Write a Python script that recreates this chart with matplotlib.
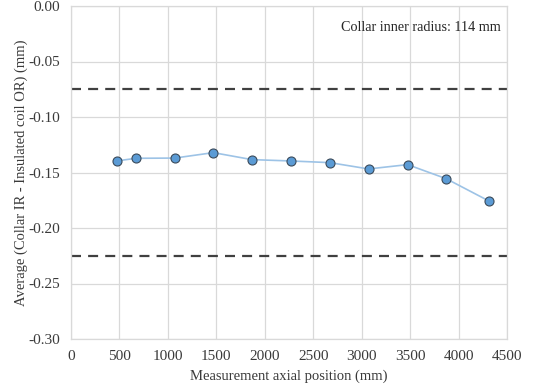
import matplotlib
matplotlib.use("Agg")
import matplotlib.pyplot as plt

# Average radial difference along the magnet
positions_mm = [471, 671, 1070, 1469, 1868, 2267, 2670, 3072, 3474, 3873, 4314]
avg_diff_mm = [-0.1396, -0.1372, -0.1370, -0.1321, -0.1384, -0.1396,
               -0.1411, -0.1468, -0.1429, -0.1556, -0.1757]

upper_limit = -0.075
lower_limit = -0.225

x_ticks = [0, 500, 1000, 1500, 2000, 2500, 3000, 3500, 4000, 4500]
y_ticks = [0.00, -0.05, -0.10, -0.15, -0.20, -0.25, -0.30]

plt.rcParams['font.family'] = ['Liberation Serif', 'DejaVu Serif']

W, H = 535, 392
fig = plt.figure(figsize=(W / 100, H / 100), dpi=100)
ax = fig.add_axes([71 / W, 1 - 339 / H, (507 - 71) / W, (339 - 6) / H])

ax.axhline(upper_limit, color='#404040', lw=1.6, ls=(0, (4.5, 3.2)), zorder=2)
ax.axhline(lower_limit, color='#404040', lw=1.6, ls=(0, (4.5, 3.2)), zorder=2)

ax.plot(positions_mm, avg_diff_mm, color='#9dc3e6', lw=1.2, zorder=3)
ax.plot(positions_mm, avg_diff_mm, ls='none', marker='o', ms=6.5,
        mfc='#5b9bd5', mec='#3a4a5a', mew=0.8, zorder=4)

ax.set_xlim(0, 4500)
ax.set_ylim(-0.30, 0.00)
ax.set_xticks(x_ticks)
ax.set_yticks(y_ticks)
ax.set_yticklabels([f"{v:.2f}" for v in y_ticks])
ax.grid(True, color='#d9d9d9', lw=0.9)
ax.set_axisbelow(True)
for s in ax.spines.values():
    s.set_color('#d9d9d9')
    s.set_linewidth(0.9)
ax.tick_params(length=0, labelsize=11, colors='#3a3a3a')
ax.tick_params(axis='y', pad=8)
ax.tick_params(axis='x', pad=8)

ax.set_xlabel('Measurement axial position (mm)', fontsize=10.5, color='#3a3a3a')
ax.set_ylabel('Average (Collar IR - Insulated coil OR) (mm)', fontsize=10.5,
              color='#3a3a3a')
ax.xaxis.set_label_coords(0.5, -(376 - 339) / 333, transform=ax.transAxes)
ax.yaxis.set_label_coords(-(71 - 21) / 436, 0.5, transform=ax.transAxes)
ax.xaxis.label.set_va('center')
ax.yaxis.label.set_va('center')

ax.text(0.985, 0.955, 'Collar inner radius: 114 mm', transform=ax.transAxes,
        ha='right', va='top', fontsize=10.2, color='#262626')

fig.savefig('out.png', dpi=100)
